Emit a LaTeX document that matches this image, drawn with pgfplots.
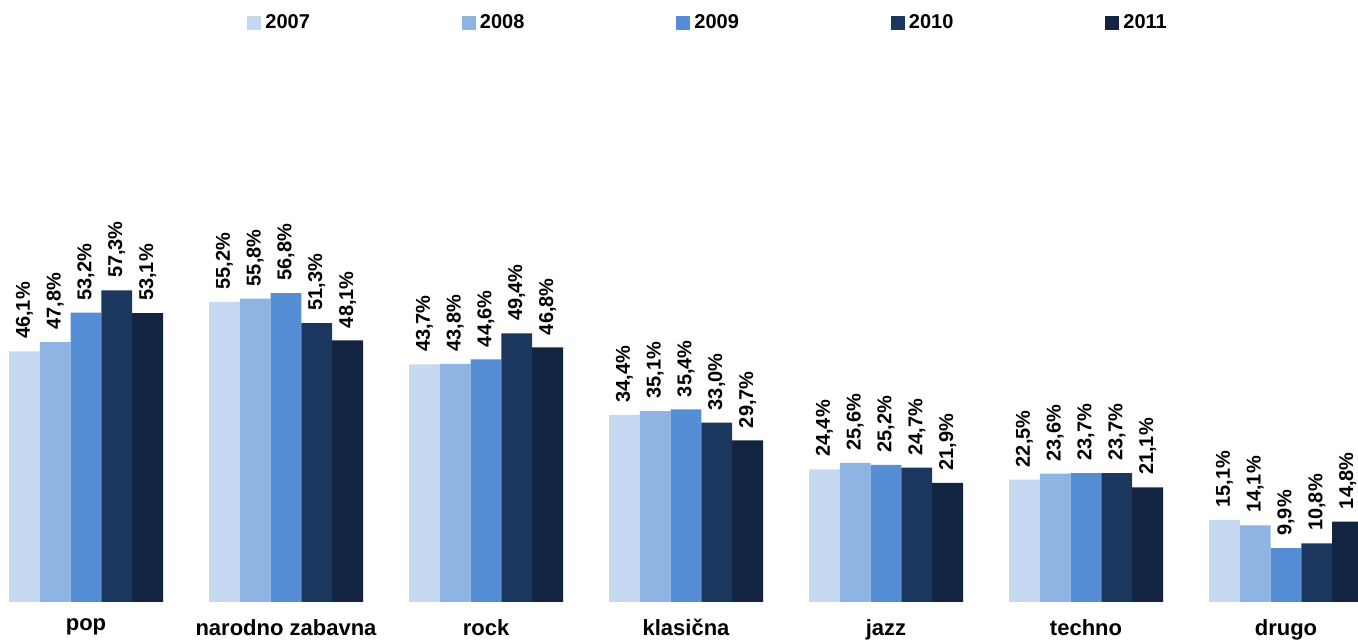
\documentclass[border=0pt]{standalone}
\usepackage{pgfplots}
\pgfplotsset{compat=1.18}
\usepackage{fontspec}
\setmainfont{Liberation Sans}
\definecolor{cA}{HTML}{C6D9F1}
\definecolor{cB}{HTML}{8EB4E3}
\definecolor{cC}{HTML}{558ED5}
\definecolor{cD}{HTML}{1B375D}
\definecolor{cE}{HTML}{12243F}
\begin{document}
\begin{tikzpicture}
\begin{axis}[
  scale only axis,
  width=679pt, height=301pt,
  xmin=-0.43, xmax=6.36,
  ymin=0, ymax=110.7,
  axis line style={draw=none},
  ytick=\empty,
  xtick={0,1,2,3,4,5,6},
  xticklabels={pop,narodno zabavna,rock,klasična,jazz,techno,drugo},
  major tick length=0pt,
  xticklabel style={font=\fontsize{11}{13}\selectfont\bfseries, yshift=-5pt},
  ybar, bar width=0.154,
  /pgf/number format/assume math mode=true,
  nodes near coords={\pgfmathprintnumber[fixed,fixed zerofill,precision=1,use comma,assume math mode=true]{\pgfplotspointmeta}\%},
  every node near coord/.append style={rotate=90, anchor=west, font=\fontsize{10}{12}\selectfont\bfseries, xshift=5pt, inner sep=1pt},
  legend columns=5,
  legend style={draw=none, fill=none, at={(rel axis cs:0.1819,0.962)}, anchor=west,
    /tikz/every even column/.append style={column sep=74pt},
    font=\fontsize{10}{12}\selectfont\bfseries, inner sep=0pt},
  legend image code/.code={\fill[#1] (0pt,-3.5pt) rectangle (7pt,3.5pt);},
]
\addplot[fill=cA, draw=none, bar shift=-0.308] coordinates {(0,46.1) (1,55.2) (2,43.7) (3,34.4) (4,24.4) (5,22.5) (6,15.1)};
\addplot[fill=cB, draw=none, bar shift=-0.154] coordinates {(0,47.8) (1,55.8) (2,43.8) (3,35.1) (4,25.6) (5,23.6) (6,14.1)};
\addplot[fill=cC, draw=none, bar shift=0] coordinates {(0,53.2) (1,56.8) (2,44.6) (3,35.4) (4,25.2) (5,23.7) (6,9.9)};
\addplot[fill=cD, draw=none, bar shift=0.154] coordinates {(0,57.3) (1,51.3) (2,49.4) (3,33.0) (4,24.7) (5,23.7) (6,10.8)};
\addplot[fill=cE, draw=none, bar shift=0.308] coordinates {(0,53.1) (1,48.1) (2,46.8) (3,29.7) (4,21.9) (5,21.1) (6,14.8)};
\legend{2007,2008,2009,2010,2011}
\end{axis}
\pgfresetboundingbox
\useasboundingbox (0pt,-19.5pt) rectangle (679pt,301pt);
\end{tikzpicture}
\end{document}
